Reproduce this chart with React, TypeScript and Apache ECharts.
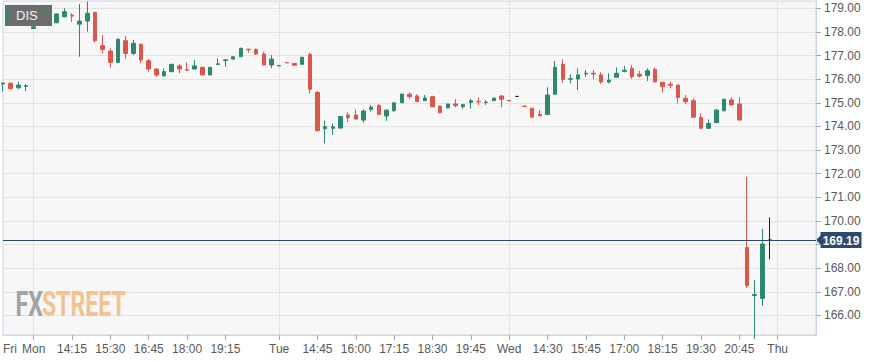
import React, { useEffect, useRef } from 'react';
import * as echarts from 'echarts';

const symbolName = 'DIS';
const lastPrice = 169.19;
const yMin = 165.17;
const yMax = 179.31;

// trading sessions: day name, first 15-minute slot, number of slots
const daySegments = [
  { day: 'Fri', start: '19:00', count: 4 },
  { day: 'Mon', start: '13:00', count: 32 },
  { day: 'Tue', start: '13:30', count: 30 },
  { day: 'Wed', start: '13:15', count: 35 },
  { day: 'Thu', start: '13:30', count: 6 },
];

// categories that carry a label on the time axis
const tickLabels = [
  'Fri 19:00', 'Mon 13:00', 'Mon 14:15', 'Mon 15:30', 'Mon 16:45', 'Mon 18:00', 'Mon 19:15',
  'Tue 13:30', 'Tue 14:45', 'Tue 16:00', 'Tue 17:15', 'Tue 18:30', 'Tue 19:45',
  'Wed 13:15', 'Wed 14:30', 'Wed 15:45', 'Wed 17:00', 'Wed 18:15', 'Wed 19:30', 'Wed 20:45',
  'Thu 13:30',
];

// [open, close, low, high] per 15-minute slot, null = no trade
const ohlc: (number[] | null)[] = [
  [175.80, 175.84, 175.48, 175.84],
  [175.83, 175.60, 175.58, 175.85],
  [175.64, 175.75, 175.57, 175.89],
  [175.69, 175.72, 175.50, 175.80],
  [178.15, 178.22, 178.12, 178.25],
  [178.79, 178.86, 178.73, 178.88],
  [178.83, 178.85, 178.82, 178.86],
  [178.39, 178.76, 178.37, 178.80],
  [178.64, 178.86, 178.62, 179.00],
  [178.71, 178.67, 178.43, 178.79],
  [178.33, 178.46, 176.95, 179.18],
  [178.46, 178.79, 178.01, 179.28],
  [178.83, 177.63, 177.54, 178.85],
  [177.42, 177.26, 177.09, 177.87],
  [177.19, 176.71, 176.50, 177.31],
  [176.71, 177.69, 176.67, 177.73],
  [177.63, 177.09, 176.88, 177.84],
  [177.09, 177.52, 177.02, 177.66],
  [177.48, 176.81, 176.67, 177.50],
  [176.78, 176.43, 176.32, 176.85],
  [176.43, 176.18, 176.10, 176.45],
  [176.15, 176.32, 176.10, 176.46],
  [176.32, 176.63, 176.30, 176.65],
  [176.56, 176.43, 176.25, 176.63],
  [176.40, 176.38, 176.37, 176.71],
  [176.43, 176.56, 176.42, 176.81],
  [176.50, 176.18, 176.17, 176.52],
  [176.18, 176.50, 176.17, 176.52],
  [176.62, 176.65, 176.62, 176.88],
  [176.79, 176.82, 176.53, 176.83],
  [176.85, 176.95, 176.84, 176.96],
  [176.95, 177.31, 176.94, 177.32],
  [177.27, 177.25, 177.12, 177.28],
  [177.26, 177.07, 177.02, 177.30],
  [177.07, 176.60, 176.59, 177.16],
  [176.60, 176.85, 176.46, 177.02],
  [176.56, 176.58, 176.56, 176.58],
  [176.71, 176.69, 176.69, 176.71],
  [176.67, 176.59, 176.59, 176.67],
  [176.63, 176.93, 176.62, 176.94],
  [177.05, 175.57, 175.40, 177.12],
  [175.44, 173.82, 173.79, 175.50],
  [173.90, 173.99, 173.28, 174.24],
  [173.92, 173.99, 173.64, 174.13],
  [173.93, 174.42, 173.91, 174.44],
  [174.48, 174.37, 174.20, 174.60],
  [174.48, 174.31, 174.30, 174.72],
  [174.27, 174.65, 174.16, 174.72],
  [174.72, 174.82, 174.62, 174.91],
  [174.89, 174.51, 174.50, 174.94],
  [174.44, 174.69, 174.24, 174.72],
  [174.67, 175.00, 174.61, 175.01],
  [175.00, 175.37, 174.99, 175.38],
  [175.36, 175.26, 175.16, 175.44],
  [175.29, 175.05, 175.04, 175.36],
  [175.09, 175.20, 175.08, 175.33],
  [175.26, 174.83, 174.82, 175.30],
  [174.86, 174.58, 174.55, 174.87],
  [174.79, 174.95, 174.75, 174.96],
  [174.95, 174.88, 174.81, 175.15],
  [174.83, 174.92, 174.75, 174.93],
  [175.02, 175.09, 174.75, 175.16],
  [175.06, 175.04, 174.91, 175.23],
  [175.01, 175.03, 174.91, 175.12],
  [175.09, 175.20, 175.08, 175.21],
  [175.29, 175.15, 174.81, 175.30],
  [175.10, 175.08, 175.08, 175.10],
  [175.27, 175.27, 175.27, 175.27],
  [174.86, 174.84, 174.84, 174.86],
  [174.77, 174.39, 174.38, 174.78],
  [174.51, 174.45, 174.44, 174.69],
  [174.51, 175.33, 174.50, 175.66],
  [175.36, 176.50, 175.35, 176.77],
  [176.63, 175.99, 175.85, 176.84],
  [176.00, 176.02, 175.82, 176.22],
  [176.01, 176.18, 175.54, 176.46],
  [176.22, 176.25, 176.10, 176.39],
  [176.25, 176.22, 176.00, 176.39],
  [176.18, 175.88, 175.80, 176.29],
  [175.88, 175.96, 175.82, 176.25],
  [176.08, 176.25, 176.07, 176.50],
  [176.33, 176.38, 176.29, 176.56],
  [176.46, 176.10, 176.02, 176.60],
  [176.21, 176.13, 176.06, 176.35],
  [176.15, 176.36, 175.92, 176.46],
  [176.42, 175.89, 175.87, 176.49],
  [175.87, 175.68, 175.44, 175.88],
  [175.79, 175.74, 175.61, 175.89],
  [175.75, 175.22, 174.98, 175.76],
  [175.19, 175.05, 174.94, 175.33],
  [175.09, 174.39, 174.38, 175.19],
  [174.39, 173.92, 173.91, 174.55],
  [173.92, 174.13, 173.91, 174.30],
  [174.16, 174.69, 174.15, 174.74],
  [174.66, 175.15, 174.65, 175.16],
  [175.12, 174.91, 174.90, 175.23],
  [174.95, 174.27, 174.26, 175.23],
  [168.87, 167.26, 167.15, 171.87],
  [166.84, 166.88, 165.00, 167.50],
  [166.72, 169.02, 166.41, 169.66],
  [169.19, 169.19, 168.37, 170.15],
  null, null, null, null, null, null,
];

const UP = '#2e8770';
const DOWN = '#d9584b';
const FLAT = '#222222';
const NAVY = '#2c4a6e';
const FONT = '"Liberation Sans", Arial, sans-serif';

const categories: string[] = [];
const dayStarts: number[] = [];
daySegments.forEach((seg) => {
  const [h, m] = seg.start.split(':').map(Number);
  dayStarts.push(categories.length);
  for (let k = 0; k < seg.count; k++) {
    const t = h * 60 + m + 15 * k;
    const hh = String(Math.floor(t / 60)).padStart(2, '0');
    const mm = String(t % 60).padStart(2, '0');
    categories.push(`${seg.day} ${hh}:${mm}`);
  }
});
const labelSet = new Set(tickLabels);

function labelText(cat: string, idx: number): string {
  const [day, time] = cat.split(' ');
  return dayStarts.includes(idx) ? day : time;
}

export default function App() {
  const ref = useRef<HTMLDivElement>(null);

  useEffect(() => {
    if (!ref.current) return;
    const chart = echarts.init(ref.current, undefined, { renderer: 'svg' });

    const seriesData = ohlc.map((d) => {
      if (!d) return ['-', '-', '-', '-'];
      if (d[0] === d[1]) {
        return {
          value: d,
          itemStyle: {
            color: FLAT, color0: FLAT, borderColor: FLAT, borderColor0: FLAT, borderColorDoji: FLAT,
          },
        };
      }
      return d;
    });

    chart.setOption({
      animation: false,
      backgroundColor: '#ffffff',
      grid: {
        left: 0, right: 71, top: 1, bottom: 27,
        show: true, backgroundColor: '#f7f7f7', borderColor: '#ccd6eb', borderWidth: 1,
      },
      xAxis: {
        type: 'category',
        data: categories,
        boundaryGap: false,
        axisLine: { show: true, lineStyle: { color: '#ccd6eb' } },
        axisTick: {
          show: true, length: 5, lineStyle: { color: '#a8a8a8' },
          interval: (i: number) => i > 0 && labelSet.has(categories[i]),
        },
        axisLabel: {
          interval: (i: number) => labelSet.has(categories[i]),
          formatter: (v: string, i: number) => labelText(v, i),
          color: '#595959', fontSize: 12, fontFamily: FONT, margin: 8,
          alignMinLabel: 'left',
        },
        splitLine: {
          show: true,
          interval: (i: number) => i > 0 && dayStarts.includes(i),
          lineStyle: { color: '#e3e3e3', width: 1 },
        },
      },
      yAxis: {
        type: 'value',
        position: 'right',
        min: yMin,
        max: yMax,
        splitNumber: 14,
        scale: true,
        axisLine: { show: true, lineStyle: { color: '#ccd6eb' } },
        axisTick: { show: true, length: 5, lineStyle: { color: '#a8a8a8' } },
        axisLabel: {
          // the last-price tag covers the label that sits under it
          formatter: (v: number) => (Math.abs(v - lastPrice) < 0.45 ? '' : v.toFixed(2)),
          color: '#595959', fontSize: 12, fontFamily: FONT, margin: 8,
          showMinLabel: false, showMaxLabel: false,
        },
        splitLine: { show: true, lineStyle: { color: '#e3e3e3', width: 1 } },
      },
      series: [
        {
          type: 'candlestick',
          data: seriesData,
          barWidth: 4,
          clip: true,
          itemStyle: {
            color: UP, color0: DOWN, borderColor: UP, borderColor0: DOWN, borderWidth: 1,
            borderColorDoji: FLAT,
          },
          markLine: {
            silent: true,
            symbol: 'none',
            label: { show: false },
            lineStyle: { color: NAVY, width: 1, type: 'solid' },
            data: [{ yAxis: lastPrice }],
          },
        },
      ],
    });

    const py = chart.convertToPixel({ yAxisIndex: 0 }, lastPrice) as number;
    const pxEnd = chart.convertToPixel({ xAxisIndex: 0 }, categories[categories.length - 1]) as number;

    chart.setOption({
      graphic: [
        {
          type: 'group', id: 'watermark', x: 15.5, y: 304, scaleX: 0.66, z: 1, silent: true,
          children: [
            {
              type: 'text',
              style: {
                text: 'FX', x: 0, y: 0, fill: '#9ea2a9', font: `bold 35px Roboto`,
                align: 'left', textAlign: 'left', verticalAlign: 'middle', textVerticalAlign: 'middle',
              },
            },
            {
              type: 'text',
              style: {
                text: 'STREET', x: 40, y: 0, fill: '#f2c38e', font: `bold 35px Roboto`,
                align: 'left', textAlign: 'left', verticalAlign: 'middle', textVerticalAlign: 'middle',
              },
            },
          ],
        },
        {
          type: 'group', id: 'symbol', z: 20, silent: true,
          children: [
            { type: 'rect', shape: { x: 5, y: 5, width: 47, height: 21 }, style: { fill: 'rgba(92,92,92,0.9)' } },
            { type: 'rect', shape: { x: 5, y: 5, width: 2, height: 21 }, style: { fill: UP } },
            {
              type: 'text',
              style: {
                text: symbolName, x: 16, y: 15.5, fill: '#f2f2f2', font: `13px ${FONT}`,
                align: 'left', textAlign: 'left', verticalAlign: 'middle', textVerticalAlign: 'middle',
              },
            },
          ],
        },
        {
          type: 'group', id: 'price', z: 20, silent: true,
          children: [
            {
              type: 'polygon',
              shape: { points: [[pxEnd, py], [pxEnd + 5, py - 5], [pxEnd + 5, py + 5]] },
              style: { fill: NAVY },
            },
            { type: 'rect', shape: { x: pxEnd + 4.5, y: py - 8, width: 41, height: 16 }, style: { fill: NAVY } },
            {
              type: 'text',
              style: {
                text: lastPrice.toFixed(2), x: pxEnd + 25, y: py + 0.5, fill: '#ffffff',
                font: `bold 12px ${FONT}`,
                align: 'center', textAlign: 'center', verticalAlign: 'middle', textVerticalAlign: 'middle',
              },
            },
          ],
        },
      ],
    });

    return () => chart.dispose();
  }, []);

  return (
    <div
      ref={ref}
      style={{ position: 'fixed', left: 0, top: 0, width: 887, height: 362 }}
    />
  );
}
